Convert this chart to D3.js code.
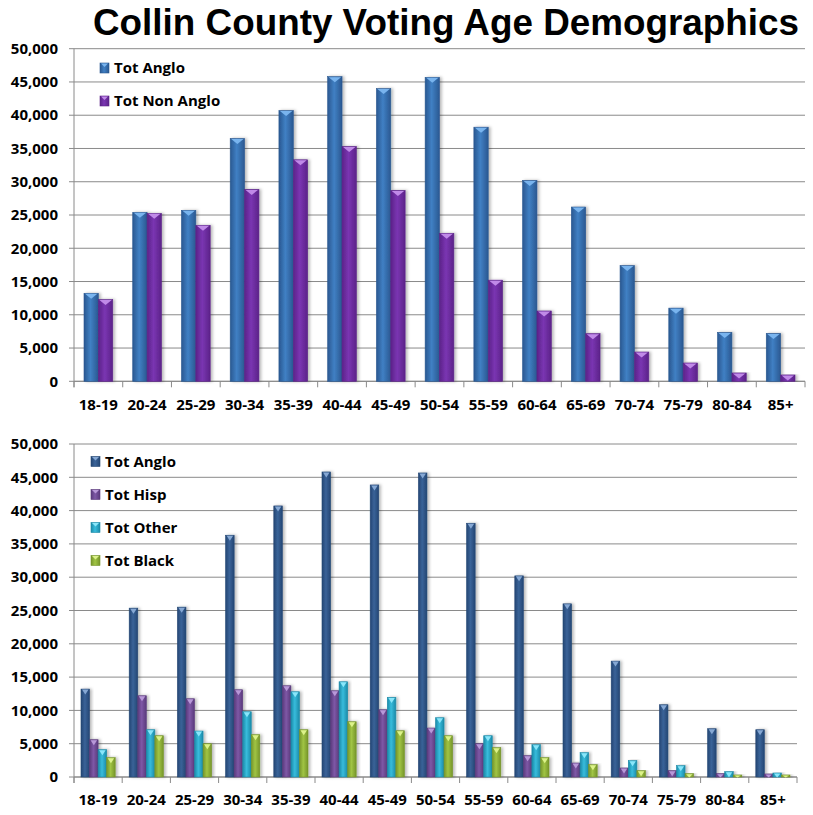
<!DOCTYPE html>
<html>
<head>
<meta charset="utf-8">
<title>Collin County Voting Age Demographics</title>
<script src="https://cdnjs.cloudflare.com/ajax/libs/d3/7.8.5/d3.min.js"></script>
<style>
    html, body { margin: 0; padding: 0; background: #fff; }
    #renderer { width: 813px; height: 815px; display: block; }
    text { font-family: "Open Sans", "Liberation Sans", sans-serif; fill: #000; }
</style>
</head>
<body>
<svg id="renderer" width="813" height="815"></svg>
<script>
    // age groups
    var ageGroups = ['18-19', '20-24', '25-29', '30-34', '35-39', '40-44', '45-49', '50-54',
        '55-59', '60-64', '65-69', '70-74', '75-79', '80-84', '85+'];

    // top chart
    var topAnglo = [13230, 25400, 25700, 36500, 40700, 45800, 44000, 45700, 38200, 30200, 26200, 17400, 11000, 7350, 7200];
    var topNonAnglo = [12280, 25250, 23450, 28850, 33300, 35300, 28700, 22250, 15200, 10570, 7160, 4400, 2750, 1250, 950];

    // bottom chart
    var botAnglo = [13200, 25350, 25500, 36300, 40700, 45800, 43850, 45650, 38100, 30200, 26000, 17400, 10850, 7250, 7100];
    var botHisp = [5600, 12200, 11750, 13100, 13700, 12950, 10100, 7350, 5000, 3200, 2100, 1350, 950, 500, 450];
    var botOther = [4100, 7100, 6900, 9800, 12800, 14300, 11950, 8900, 6200, 4850, 3650, 2450, 1700, 800, 600];
    var botBlack = [2900, 6200, 5000, 6350, 7100, 8300, 6950, 6200, 4400, 2900, 1850, 950, 500, 300, 300];

    var yTicks = [0, 5000, 10000, 15000, 20000, 25000, 30000, 35000, 40000, 45000, 50000];

    var root = d3.select('#renderer');
    var defs = root.append('defs');

    // soft shadow behind each bar
    var shadow = defs.append('filter').attr('id', 'shadow')
        .attr('x', '-50%').attr('y', '-10%').attr('width', '200%').attr('height', '120%');
    shadow.append('feDropShadow')
        .attr('dx', 2).attr('dy', 0).attr('stdDeviation', 1.5)
        .attr('flood-color', '#000').attr('flood-opacity', 0.28);

    function makeGradient(id, edge, mid) {
        var g = defs.append('linearGradient').attr('id', id)
            .attr('x1', '0%').attr('x2', '100%').attr('y1', '0%').attr('y2', '0%');
        g.append('stop').attr('offset', '0%').attr('stop-color', edge);
        g.append('stop').attr('offset', '45%').attr('stop-color', mid);
        g.append('stop').attr('offset', '100%').attr('stop-color', edge);
    }

    var topSeries = [
        {name: 'Tot Anglo', values: topAnglo, id: 'gTA', edge: '#2a5891', mid: '#4080c4', cap: '#79b4ee'},
        {name: 'Tot Non Anglo', values: topNonAnglo, id: 'gTN', edge: '#5c2389', mid: '#7a35b2', cap: '#c08ae8'}
    ];
    var botSeries = [
        {name: 'Tot Anglo', values: botAnglo, id: 'gBA', edge: '#244674', mid: '#3a6398', cap: '#86a8d4'},
        {name: 'Tot Hisp', values: botHisp, id: 'gBH', edge: '#5a3a7c', mid: '#7e58a6', cap: '#b898d8'},
        {name: 'Tot Other', values: botOther, id: 'gBO', edge: '#1b8aa8', mid: '#38bcdc', cap: '#8ae6fa'},
        {name: 'Tot Black', values: botBlack, id: 'gBB', edge: '#76952a', mid: '#a0c444', cap: '#dcf28a'}
    ];
    topSeries.concat(botSeries).forEach(function (s) { makeGradient(s.id, s.edge, s.mid); });

    // title
    root.append('text')
        .text('Collin County Voting Age Demographics')
        .attr('x', 93)
        .attr('y', 35)
        .style('font-family', '"Liberation Sans", sans-serif')
        .attr('font-size', 37)
        .attr('font-weight', 'bold')
        .attr('textLength', 706)
        .attr('lengthAdjust', 'spacingAndGlyphs');

    function drawChart(series, left, right, top, bottom, groupInset, legendX, legendY, legendGap, labelY) {
        var g = root.append('g');

        var x0 = d3.scaleBand().domain(ageGroups).range([left, right]).padding(0);
        var x1 = d3.scaleBand().domain(series.map(function (s) { return s.name; }))
            .range([groupInset, x0.bandwidth() - groupInset]).padding(0);
        var y = d3.scaleLinear().domain([0, 50000]).range([bottom, top]);

        // grid
        g.selectAll('.grid').data(yTicks).enter().append('line')
            .attr('x1', left - 5).attr('x2', right)
            .attr('y1', function (d) { return y(d); })
            .attr('y2', function (d) { return y(d); })
            .attr('stroke', '#8a8a8a').attr('stroke-width', 1);

        // y labels
        g.selectAll('.ylab').data(yTicks).enter().append('text')
            .text(function (d) { return d3.format(',')(d); })
            .attr('x', left - 16)
            .attr('y', function (d) { return y(d); })
            .attr('dy', '0.35em')
            .attr('text-anchor', 'end')
            .attr('font-size', 15)
            .attr('font-weight', 'bold');

        // axes
        g.append('line').attr('x1', left).attr('x2', left).attr('y1', top).attr('y2', bottom + 6)
            .attr('stroke', '#8a8a8a');
        g.append('line').attr('x1', left).attr('x2', right).attr('y1', bottom).attr('y2', bottom)
            .attr('stroke', '#8a8a8a');
        var tickX = ageGroups.map(function (a) { return x0(a); }).concat([right]);
        g.selectAll('.xtick').data(tickX).enter().append('line')
            .attr('x1', function (d) { return d; }).attr('x2', function (d) { return d; })
            .attr('y1', bottom).attr('y2', bottom + 6)
            .attr('stroke', '#8a8a8a');

        // category labels
        g.selectAll('.xlab').data(ageGroups).enter().append('text')
            .text(function (d) { return d; })
            .attr('x', function (d) { return x0(d) + x0.bandwidth() / 2; })
            .attr('y', labelY)
            .attr('dy', '0.35em')
            .attr('text-anchor', 'middle')
            .attr('font-size', 15)
            .attr('font-weight', 'bold');

        // bars
        series.forEach(function (s) {
            var bw = x1.bandwidth();
            var grp = g.append('g');
            ageGroups.forEach(function (a, i) {
                var bx = x0(a) + x1(s.name);
                var by = y(s.values[i]);
                var bh = bottom - by;
                grp.append('rect')
                    .attr('x', bx).attr('y', by)
                    .attr('width', bw).attr('height', bh)
                    .attr('fill', 'url(#' + s.id + ')')
                    .attr('stroke', s.edge).attr('stroke-width', 0.6)
                    .attr('filter', 'url(#shadow)');
                var capH = Math.min(5, bh);
                grp.append('path')
                    .attr('d', 'M' + (bx + 1) + ',' + (by + 0.5) + 'L' + (bx + bw - 1) + ',' + (by + 0.5) +
                        'L' + (bx + bw / 2) + ',' + (by + capH + 0.5) + 'Z')
                    .attr('fill', s.cap);
            });
        });

        // legend
        series.forEach(function (s, i) {
            var ly = legendY + i * legendGap;
            g.append('rect')
                .attr('x', legendX).attr('y', ly - 5)
                .attr('width', 9).attr('height', 10)
                .attr('fill', 'url(#' + s.id + ')')
                .attr('stroke', s.edge).attr('stroke-width', 0.6);
            g.append('path')
                .attr('d', 'M' + (legendX + 1) + ',' + (ly - 4.5) + 'L' + (legendX + 8) + ',' + (ly - 4.5) +
                    'L' + (legendX + 4.5) + ',' + (ly - 1) + 'Z')
                .attr('fill', s.cap);
            g.append('text')
                .text(s.name)
                .attr('x', legendX + 14)
                .attr('y', ly)
                .attr('dy', '0.35em')
                .attr('font-size', 15)
                .attr('font-weight', 'bold');
        });
    }

    drawChart(topSeries, 74, 805, 48.7, 381.3, 10, 100, 68, 33, 405);
    drawChart(botSeries, 74, 797, 444, 777, 7, 91, 461.5, 33, 800);
</script>
</body>
</html>
